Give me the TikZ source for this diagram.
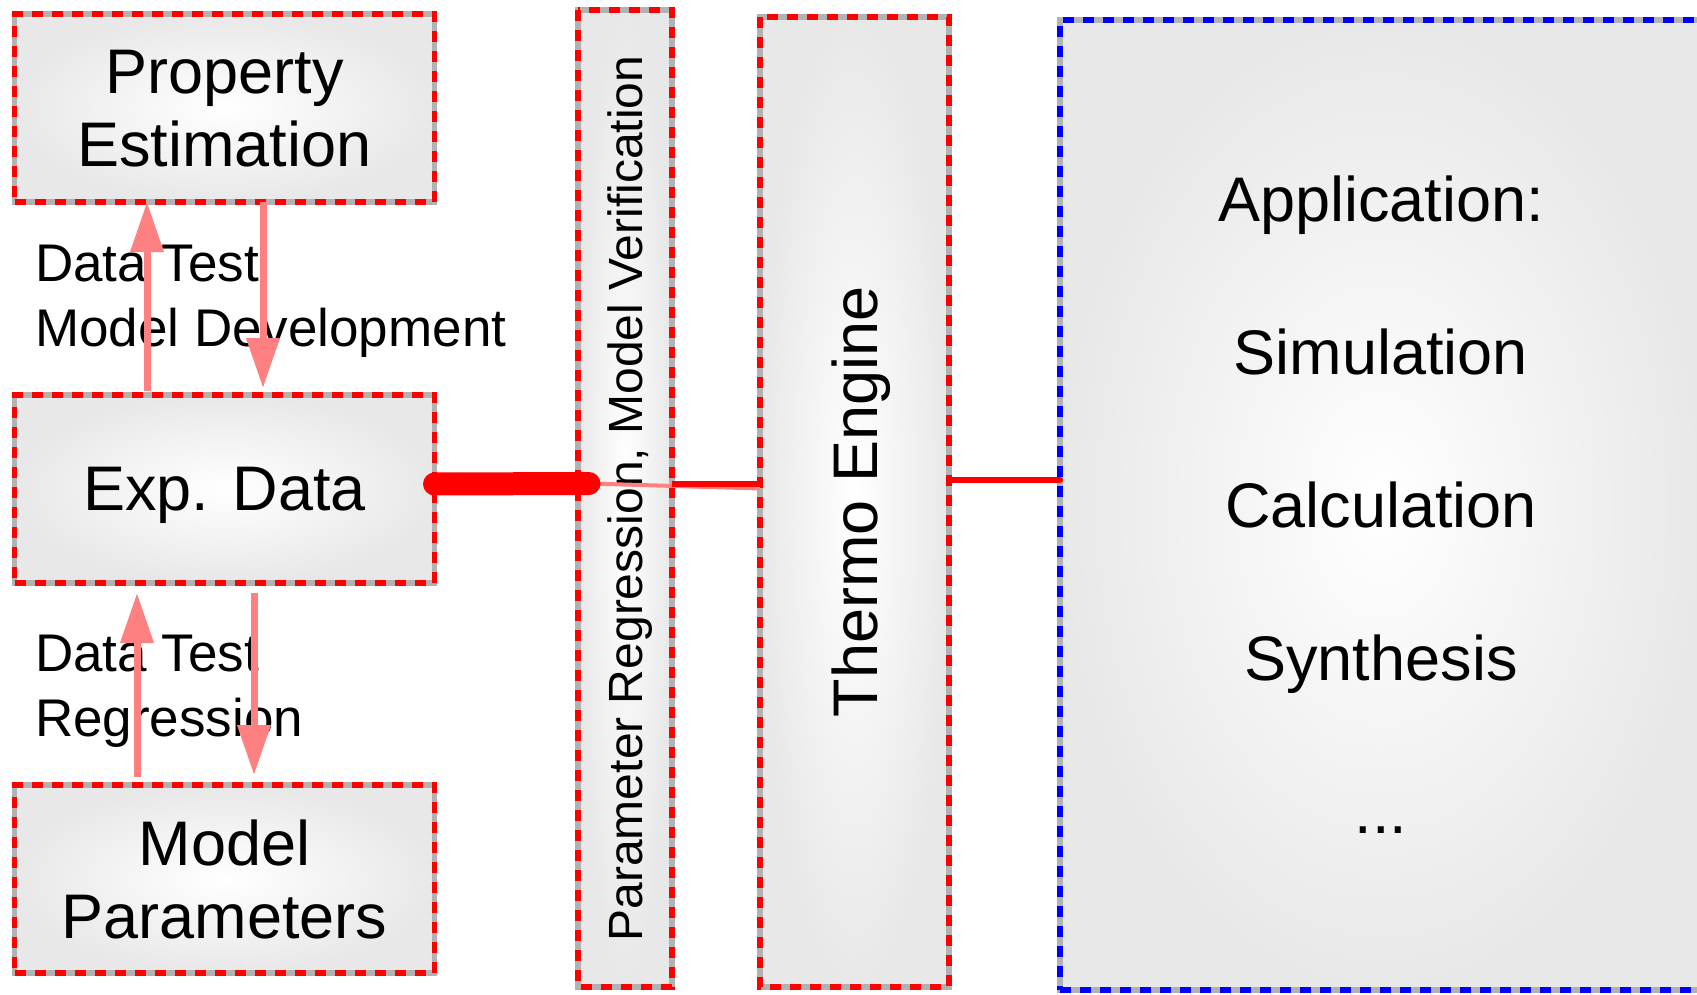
\documentclass[tikz,border=0pt]{standalone}
\usepackage{fontspec}
\setmainfont{Liberation Sans}
\usetikzlibrary{arrows.meta, positioning, calc}

\begin{document}
\begin{tikzpicture}[x=0.5pt, y=-0.5pt, >={Triangle[length=25pt,width=16pt]},
  outer sep=0pt, inner sep=0pt,
  box/.style={rectangle, draw=black!30, line width=2.75pt,
    inner color=white, outer color=black!9, text depth=0pt, align=center},
  main node/.style={box, postaction={draw=red, line width=2.75pt, dash pattern=on 5.5pt off 4.5pt},
    font=\fontsize{31.5}{36.5}\selectfont, minimum width=210pt, minimum height=94pt},
  bar node/.style={box, postaction={draw=red, line width=2.75pt, dash pattern=on 5.5pt off 4.5pt},
    rotate=90},
  app node/.style={box, postaction={draw=blue, line width=2.75pt, dash pattern=on 5.5pt off 4.5pt},
    font=\fontsize{31.5}{76.5}\selectfont, minimum width=321pt, minimum height=485pt},
  side label/.style={anchor=west, align=left, text depth=0pt, font=\fontsize{26.5}{32.5}\selectfont},
  flow/.style={draw=red!50, line width=3.5pt, ->},
  thick link/.style={draw=red, line width=11.5pt, line cap=round},
  soft link/.style={draw=red!50, line width=2pt},
  plain link/.style={draw=red, line width=3pt}]

  \useasboundingbox (0,0) rectangle (1697,995);
  \clip (0,0) rectangle (1697,995);

  \node[main node] (prop) at (224.5,108) {Property\\Estimation};
  \node[main node] (exp) [below=96.5pt of prop] {Exp. Data};
  \node[main node] (model) [below=101pt of exp] {Model\\Parameters};

  \node[bar node, minimum width=488.5pt, minimum height=47pt, font=\fontsize{24}{28}\selectfont]
    (param) at (625,498.5) {Parameter Regression, Model Verification};
  \node[bar node, minimum width=485pt, minimum height=94.5pt, font=\fontsize{31.5}{36.5}\selectfont]
    (thermo) at (854.5,502) {Thermo Engine};
  \node[app node] (app) at (1381,505) {Application:\\Simulation\\Calculation\\Synthesis\\...};

  \node[side label] (testA) at (35,296) {Data Test\\Model Development};
  \node[side label] (testB) at (35,686) {Data Test\\Regression};

  % data test loops
  \path ([xshift=66.25pt]exp.north west) edge [flow, shorten <=2pt] ([xshift=66.25pt]prop.south west);
  \path ([xshift=124.25pt]prop.south west) edge [flow, shorten >=3.5pt] ([xshift=124.25pt]exp.north west);
  \path ([xshift=61.25pt]model.north west) edge [flow, shorten <=4pt, shorten >=5pt] ([xshift=61.25pt]exp.south west);
  \path ([xshift=119.75pt]exp.south west) edge [flow, shorten <=5pt, shorten >=5pt] ([xshift=119.75pt]model.north west);

  % links to the engine
  \coordinate (jn) at (589,483.5);
  \coordinate (tap) at ([yshift=11pt]thermo.south);
  \path (jn) edge [soft link] ($(thermo.north |- jn)+(0,5)$);
  \path ([yshift=2.5pt]exp.east) edge [thick link] (jn);
  \path (param.south |- jn) edge [plain link] (thermo.north |- jn);
  \path (tap) edge [plain link, line cap=round] (tap -| app.west);

\end{tikzpicture}
\end{document}
